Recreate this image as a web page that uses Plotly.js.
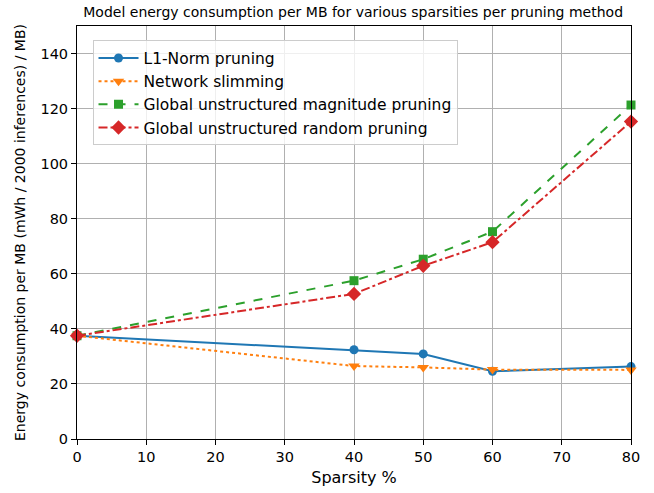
<!DOCTYPE html>
<html><head><meta charset="utf-8">
<script src="https://cdn.plot.ly/plotly-3.0.1.min.js"></script>
<style>body{margin:0;padding:0;background:#fff}#chart{width:654px;height:493px}</style>
</head><body><div id="chart"></div>
<script>
const sparsity = [0, 40, 50, 60, 80];
const l1Norm = [37.5, 32.4, 30.9, 24.6, 26.3];
const networkSlimming = [37.5, 26.5, 26.0, 25.2, 25.1];
const globalMagnitude = [37.5, 57.5, 65.3, 75.3, 121.3];
const globalRandom = [37.5, 52.7, 62.9, 71.5, 115.3];
const seriesNames = ["L1-Norm pruning", "Network slimming", "Global unstructured magnitude pruning", "Global unstructured random pruning"];

const styles = [
  {color:"#1f77b4", dash:"solid", symbol:"circle", size:9},
  {color:"#ff7f0e", dash:"dot", symbol:"triangle-down", size:10},
  {color:"#2ca02c", dash:"dash", symbol:"square", size:9},
  {color:"#d62728", dash:"dashdot", symbol:"diamond", size:11}
];
const ys = [l1Norm, networkSlimming, globalMagnitude, globalRandom];
const traces = ys.map((y, i) => ({
  x: sparsity, y: y, name: seriesNames[i], type: "scatter", mode: "lines+markers",
  line: {color: styles[i].color, dash: styles[i].dash, width: 2},
  marker: {color: styles[i].color, symbol: styles[i].symbol, size: styles[i].size},
  cliponaxis: false
}));

const axisCommon = {
  showline: true, linecolor: "#000", linewidth: 1, mirror: true,
  ticks: "outside", ticklen: 5, tickcolor: "#000",
  showgrid: true, gridcolor: "#b0b0b0", gridwidth: 1, zeroline: false,
  tickfont: {size: 14.5, color: "#000"}
};

const layout = {
  width: 654, height: 493,
  margin: {l: 77, r: 23, t: 26, b: 54},
  paper_bgcolor: "#fff", plot_bgcolor: "#fff",
  font: {family: "DejaVu Sans", color: "#000"},
  title: {text: "Model energy consumption per MB for various sparsities per pruning method",
          font: {size: 14, color: "#000"}, x: 0.54, xanchor: "center", y: 0.976, yanchor: "middle"},
  xaxis: Object.assign({}, axisCommon, {range: [0, 80], tick0: 0, dtick: 10,
          title: {text: "Sparsity %", font: {size: 16, color: "#000"}, standoff: 7}}),
  yaxis: Object.assign({}, axisCommon, {range: [0, 150], tick0: 0, dtick: 20,
          title: {text: "Energy consumption per MB (mWh / 2000 inferences) / MB)", font: {size: 14, color: "#000"}, standoff: 11}}),
  showlegend: true,
  legend: {x: 0.028, y: 0.965, xanchor: "left", yanchor: "top",
           bgcolor: "rgba(255,255,255,0.8)", bordercolor: "#cccccc", borderwidth: 1,
           font: {size: 15.5, color: "#000"}, tracegroupgap: 0, itemwidth: 40}
};

Plotly.newPlot("chart", traces, layout, {displayModeBar: false, staticPlot: true});
</script>
</body></html>
